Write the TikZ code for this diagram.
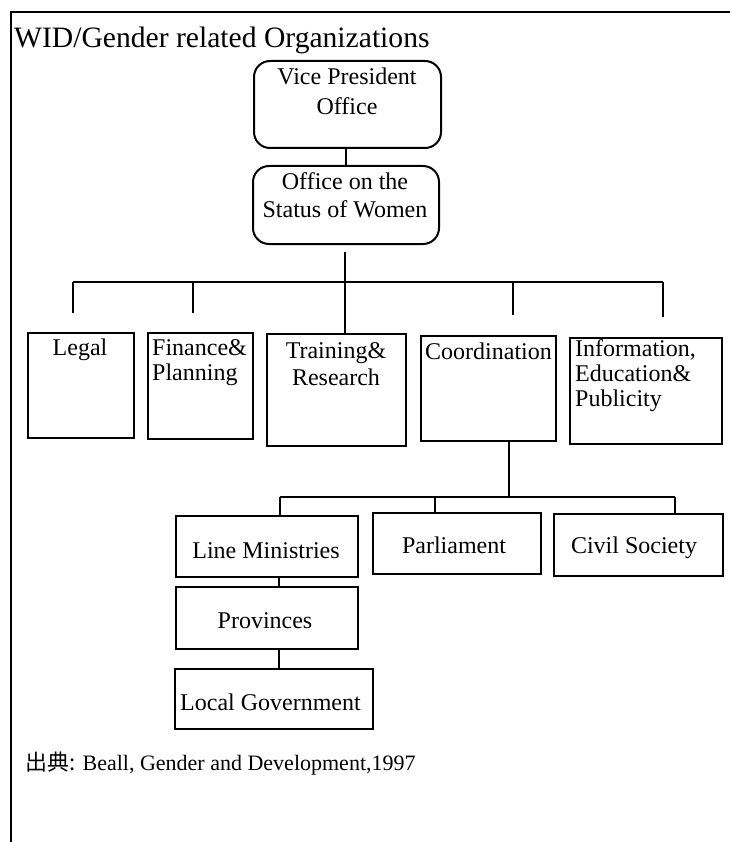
\documentclass[tikz,border=0pt]{standalone}
\usepackage{fontspec}
\setmainfont{Liberation Serif}
\newfontfamily\cjk{Noto Sans CJK JP}
\newcommand\mlines[2]{\begin{tabular}[t]{@{}#1@{}}#2\end{tabular}}
\begin{document}
\begin{tikzpicture}[x=1pt,y=-1pt,
  box/.style={draw=black, line width=2pt, inner sep=0pt, anchor=north west},
  rbox/.style={box, rounded corners=16pt},
  conn/.style={draw=black, line width=2pt},
  framel/.style={draw=black, line width=1.6pt},
  lbl/.style={inner sep=0pt, font=\fontsize{24}{#1}\selectfont},
  lbl/.default=26
]
\fill[white] (0,0) rectangle (730,842);
\useasboundingbox (0,0) rectangle (730,842);

% frame
\coordinate (fTL) at (11,12);
\coordinate (fTR) at (730,12);
\coordinate (fBL) at (11,842);
\draw[framel] (fTR) -- (fTL) -- (fBL);

% title
\node[inner sep=0pt, anchor=base west, font=\fontsize{29.6}{32}\selectfont] (title) at (14,48) {WID/Gender related Organizations};

% top tier
\node[rbox, minimum width=187pt, minimum height=87pt] (vp) at (253,60) {};
\node[rbox, minimum width=186pt, minimum height=78pt] (osw) at (252,165) {};
\node[lbl=30, anchor=base] (vpT) at (347,85) {\mlines{c}{Vice President\\Office}};
\node[lbl=28, anchor=base] (oswT) at (345,190) {\mlines{c}{Office on the\\Status of Women}};

% second tier boxes
\node[box, minimum width=106pt, minimum height=105pt] (legal) at (27,332) {};
\node[box, minimum width=105pt, minimum height=106pt] (fin) at (147,332) {};
\node[box, minimum width=139pt, minimum height=112pt] (train) at (266,333) {};
\node[box, minimum width=135pt, minimum height=105pt] (coord) at (420,335) {};
\node[box, minimum width=152pt, minimum height=106pt] (info) at (569,337) {};

\node[lbl, anchor=base] (legalT) at (80,355) {Legal};
\node[lbl=25, anchor=base west] (finT) at (152,355) {\mlines{l}{Finance\&\\Planning}};
\node[lbl=27, anchor=base] (trainT) at (336,358) {\mlines{c}{Training\&\\Research}};
\node[lbl, anchor=base west] (coordT) at (425,359) {Coordination};
\node[lbl=25, anchor=base west] (infoT) at (575,356) {\mlines{l}{Information,\\Education\&\\Publicity}};

% third tier boxes
\node[box, minimum width=182pt, minimum height=61pt] (lm) at (175,515) {};
\node[box, minimum width=168pt, minimum height=61pt] (parl) at (372,512) {};
\node[box, minimum width=169pt, minimum height=62pt] (civil) at (553,513) {};
\node[box, minimum width=182pt, minimum height=62pt] (prov) at (175,586) {};
\node[box, minimum width=198pt, minimum height=60pt] (lg) at (174,668) {};

\node[lbl, anchor=base] (lmT) at (266,558) {Line Ministries};
\node[lbl, anchor=base] (parlT) at (454,553) {Parliament};
\node[lbl, anchor=base] (civilT) at (634,553) {Civil Society};
\node[lbl, anchor=base] (provT) at (265,628) {Provinces};
\node[lbl, anchor=base west] (lgT) at (180,710) {Local Government};

% footer
\node[inner sep=0pt, anchor=base west, font=\fontsize{22}{24}\selectfont] (src) at (25,770) {{\cjk 出典:} Beall, Gender and Development,1997};

% connectors: top
\coordinate (vpx) at (346,0);
\draw[conn] (vpx |- vp.south) -- (vpx |- osw.north);
\coordinate (oswDrop) at (345,252);
\coordinate (barL) at (73,282);
\coordinate (barR) at (663,282);
\draw[conn] (oswDrop) -- (oswDrop |- train.north);
\draw[conn] (barL) -- (barR);
\coordinate (legalEnd) at (73,313);
\coordinate (finEnd) at (193,313);
\coordinate (coordEnd) at (513,315);
\coordinate (infoEnd) at (663,317);
\draw[conn] (barL) -- (legalEnd);
\draw[conn] (finEnd |- barL) -- (finEnd);
\draw[conn] (coordEnd |- barL) -- (coordEnd);
\draw[conn] (barR) -- (infoEnd);

% connectors: lower
\coordinate (cdx) at (509,0);
\coordinate (lowBarL) at (280,497);
\coordinate (lowBarR) at (675,497);
\draw[conn] (coord.south -| cdx) -- (cdx |- lowBarL);
\draw[conn] (lowBarL) -- (lowBarR);
\draw[conn] (lowBarL) -- (lowBarL |- lm.north);
\coordinate (parlx) at (435,0);
\draw[conn] (parlx |- lowBarL) -- (parlx |- parl.north);
\draw[conn] (lowBarR) -- (lowBarR |- civil.north);
\coordinate (lmx) at (279,0);
\draw[conn] (lm.south -| lmx) -- (lmx |- prov.north);
\draw[conn] (prov.south -| lmx) -- (lmx |- lg.north);
\end{tikzpicture}
\end{document}
